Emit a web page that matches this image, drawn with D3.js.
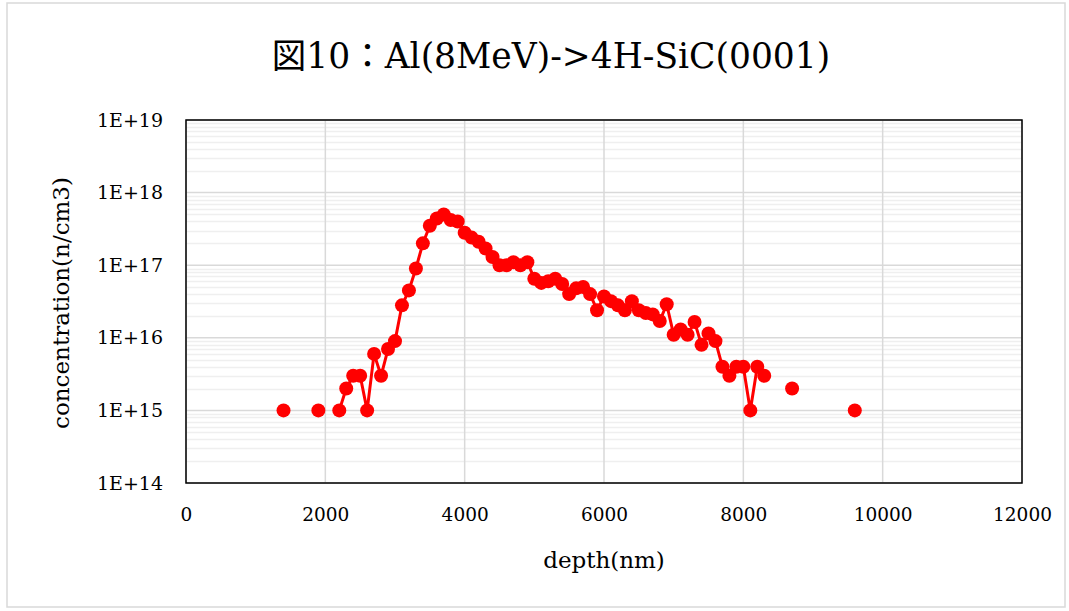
<!DOCTYPE html>
<html><head><meta charset="utf-8">
<script src="https://cdn.jsdelivr.net/npm/d3@7"></script>
<style>body{margin:0;background:#fff}text{font-family:"DejaVu Serif","Liberation Serif","Noto Sans CJK JP",serif;fill:#000}</style>
</head><body><svg id="c" width="1069" height="611"></svg>
<script>
const title = "図10：Al(8MeV)->4H-SiC(0001)";
const xLabel = "depth(nm)";
const yLabel = "concentration(n/cm3)";
const xTicks = [0,2000,4000,6000,8000,10000,12000];
const yTicks = [1e14,1e15,1e16,1e17,1e18,1e19];
const depth = [1400,1900,2200,2300,2400,2500,2600,2700,2800,2900,3000,3100,3200,3300,3400,3500,3600,3700,3800,3900,
4000,4100,4200,4300,4400,4500,4600,4700,4800,4900,5000,5100,5200,5300,5400,5500,5600,5700,5800,5900,
6000,6100,6200,6300,6400,6500,6600,6700,6800,6900,7000,7100,7200,7300,7400,7500,7600,7700,7800,7900,
8000,8100,8200,8300,8700,9600];
const conc = [1e15,1e15,1e15,2e15,3e15,3e15,1e15,6e15,3e15,7e15,9e15,2.8e16,4.5e16,9e16,2e17,3.5e17,4.4e17,5e17,4.2e17,4e17,
2.8e17,2.4e17,2.1e17,1.7e17,1.3e17,1.0e17,1.0e17,1.1e17,1.0e17,1.1e17,6.5e16,5.7e16,6e16,6.5e16,5.5e16,4e16,4.8e16,5e16,4e16,2.4e16,
3.7e16,3.2e16,2.8e16,2.4e16,3.2e16,2.4e16,2.2e16,2.1e16,1.7e16,2.9e16,1.1e16,1.3e16,1.1e16,1.65e16,8e15,1.15e16,9e15,4e15,3e15,4e15,
4e15,1e15,4e15,3e15,2e15,1e15];

const svg = d3.select("#c");
const L=186,R=1022,T=120,B=483;
svg.append("rect").attr("x",7).attr("y",3).attr("width",1058).attr("height",604).attr("fill","#fff").attr("stroke","#d9d9d9").attr("stroke-width",1.5);

const x = d3.scaleLinear().domain([0,12000]).range([L,R]);
const y = d3.scaleLog().domain([1e14,1e19]).range([B,T]);

const minor=[];
for(let e=14;e<19;e++) for(let m=2;m<=9;m++) minor.push(m*Math.pow(10,e));
svg.append("g").selectAll("line").data(minor).join("line")
 .attr("x1",L).attr("x2",R).attr("y1",d=>Math.round(y(d))+0.5).attr("y2",d=>Math.round(y(d))+0.5)
 .attr("stroke","#efefef").attr("stroke-width",1.5);
svg.append("g").selectAll("line").data(yTicks).join("line")
 .attr("x1",L).attr("x2",R).attr("y1",d=>y(d)).attr("y2",d=>y(d))
 .attr("stroke","#d9d9d9").attr("stroke-width",1.5);
svg.append("g").selectAll("line").data(xTicks).join("line")
 .attr("x1",d=>x(d)).attr("x2",d=>x(d)).attr("y1",T).attr("y2",B)
 .attr("stroke","#d9d9d9").attr("stroke-width",1.5);

svg.append("rect").attr("x",L).attr("y",T).attr("width",R-L).attr("height",B-T)
 .attr("fill","none").attr("stroke","#000").attr("stroke-width",1.5);

const xa = svg.append("g").attr("transform",`translate(0,${B})`)
 .call(d3.axisBottom(x).tickValues(xTicks).tickSize(0).tickPadding(25).tickFormat(d3.format("d")));
xa.select(".domain").remove();
xa.selectAll("text").style("font-size","18.5px").attr("font-family",null);
const ya = svg.append("g").attr("transform",`translate(${L},0)`)
 .call(d3.axisLeft(y).tickValues(yTicks).tickSize(0).tickPadding(23).tickFormat(d=>"1E+"+Math.round(Math.log10(d))));
ya.select(".domain").remove();
ya.selectAll("text").style("font-size","19px").attr("font-family",null);

const pts = depth.map((d,i)=>({d,v:conc[i]}));
const segs=[]; let cur=[];
pts.forEach((p,i)=>{ if(i>0 && p.d-pts[i-1].d>100){segs.push(cur);cur=[];} cur.push(p); });
segs.push(cur);
const line = d3.line().x(p=>x(p.d)).y(p=>y(p.v));
svg.append("g").selectAll("path").data(segs.filter(s=>s.length>1)).join("path")
 .attr("d",line).attr("fill","none").attr("stroke","#ff0000").attr("stroke-width",3).attr("stroke-linejoin","round");
svg.append("g").selectAll("circle").data(pts).join("circle")
 .attr("cx",p=>x(p.d)).attr("cy",p=>y(p.v)).attr("r",7).attr("fill","#ff0000");

svg.append("text").attr("x",551).attr("y",68).attr("text-anchor","middle").style("font-size","34.5px").text(title);
svg.append("text").attr("x",604).attr("y",568).attr("text-anchor","middle").style("font-size","23px").text(xLabel);
svg.append("text").attr("transform","translate(69,303) rotate(-90)").attr("text-anchor","middle").style("font-size","23px").text(yLabel);
</script></body></html>
